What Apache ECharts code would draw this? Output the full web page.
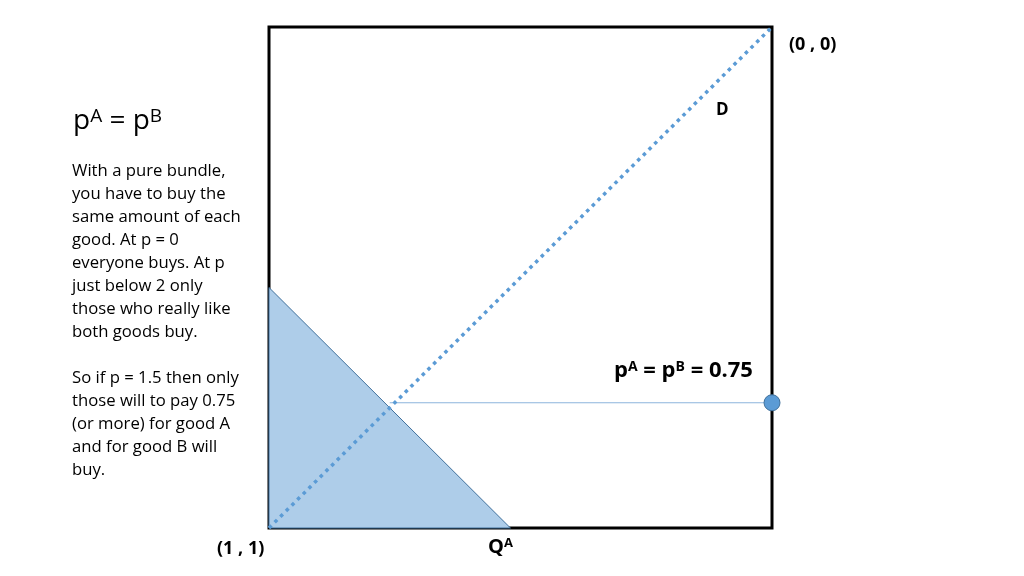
<!DOCTYPE html>
<html><head><meta charset="utf-8">
<script src="https://cdn.jsdelivr.net/npm/echarts@6/dist/echarts.min.js"></script>
<style>html,body{margin:0;padding:0;background:#fff}#c{width:1024px;height:576px}</style>
</head><body><div id="c"></div>
<script>
// Data (value space: x = Q^A from 1 (left) to 0 (right), y = Q^B from 0 (top) to 1 (bottom))
const demandLine = [[1, 1], [0, 0]];            // diagonal D
const bundleTriangle = [[1, 0.52], [1, 1], [0.52, 1]];
const priceLine = [[0.76, 0.75], [0, 0.75]];    // p^A = p^B = 0.75
const pricePoint = [[0, 0.75]];
const cornerLabels = ['(0 , 0)', '(1 , 1)'];

const FONT = '"Open Sans", Lato, sans-serif';
const chart = echarts.init(document.getElementById('c'));
chart.setOption({
  backgroundColor: '#fff',
  animation: false,
  grid: { left: 269, top: 27, width: 503, height: 501, show: true, borderColor: '#000', borderWidth: 3, backgroundColor: 'transparent' },
  xAxis: { type: 'value', min: 0, max: 1, inverse: true, show: false, splitLine: { show: false } },
  yAxis: { type: 'value', min: 0, max: 1, inverse: true, show: false, splitLine: { show: false } },
  series: [
    {
      type: 'custom',
      z: 1,
      renderItem: function (params, api) {
        const pts = bundleTriangle.map(p => api.coord(p));
        return { type: 'polygon', shape: { points: pts }, style: { fill: '#aecde9', stroke: '#41719c', lineWidth: 1 } };
      },
      data: [0]
    },
    {
      type: 'line', z: 3, data: demandLine, symbol: 'none',
      lineStyle: { color: '#5b9bd5', width: 3.5, type: [3.5, 4.5] }
    },
    {
      type: 'line', z: 2, data: priceLine, symbol: 'none',
      lineStyle: { color: '#8db4dc', width: 1.2 }
    },
    {
      type: 'scatter', z: 4, data: pricePoint, symbolSize: 16,
      itemStyle: { color: '#5b9bd5', borderColor: '#41719c', borderWidth: 1, opacity: 1 }
    }
  ],
  graphic: [
    { type: 'text', left: 789, top: 36, style: { text: cornerLabels[0], font: 'bold 18px ' + FONT, fill: '#000' } },
    { type: 'text', left: 217, top: 540, style: { text: cornerLabels[1], font: 'bold 18px ' + FONT, fill: '#000' } },
    { type: 'text', left: 716, top: 102, style: { text: 'D', font: 'bold 17px ' + FONT, fill: '#000' } },
    { type: 'text', left: 488, top: 537, style: {
        text: '{b|Q}{s|A}', rich: {
          b: { font: 'bold 20px ' + FONT, fill: '#000', verticalAlign: 'bottom' },
          s: { font: 'bold 13px ' + FONT, fill: '#000', verticalAlign: 'top' } } } },
    { type: 'text', left: 614, top: 360, style: {
        text: '{b|p}{s|A}{b| = p}{s|B}{b| = 0.75}', rich: {
          b: { font: 'bold 22px ' + FONT, fill: '#000', verticalAlign: 'bottom' },
          s: { font: 'bold 14px ' + FONT, fill: '#000', verticalAlign: 'top' } } } },
    { type: 'text', left: 73, top: 107, style: {
        text: '{b|p}{s|A}{b| = p}{s|B}', rich: {
          b: { font: '28px ' + FONT, fill: '#000', verticalAlign: 'bottom' },
          s: { font: '19px ' + FONT, fill: '#000', verticalAlign: 'top' } } } },
    { type: 'text', left: 72, top: 160, style: {
        text: 'With a pure bundle,\nyou have to buy the\nsame amount of each\ngood. At p = 0\neveryone buys. At p\njust below 2 only\nthose who really like\nboth goods buy.\n\nSo if p = 1.5 then only\nthose will to pay 0.75\n(or more) for good A\nand for good B will\nbuy.',
        font: '16.7px ' + FONT, lineHeight: 23, fill: '#000' } }
  ]
});
</script></body></html>
